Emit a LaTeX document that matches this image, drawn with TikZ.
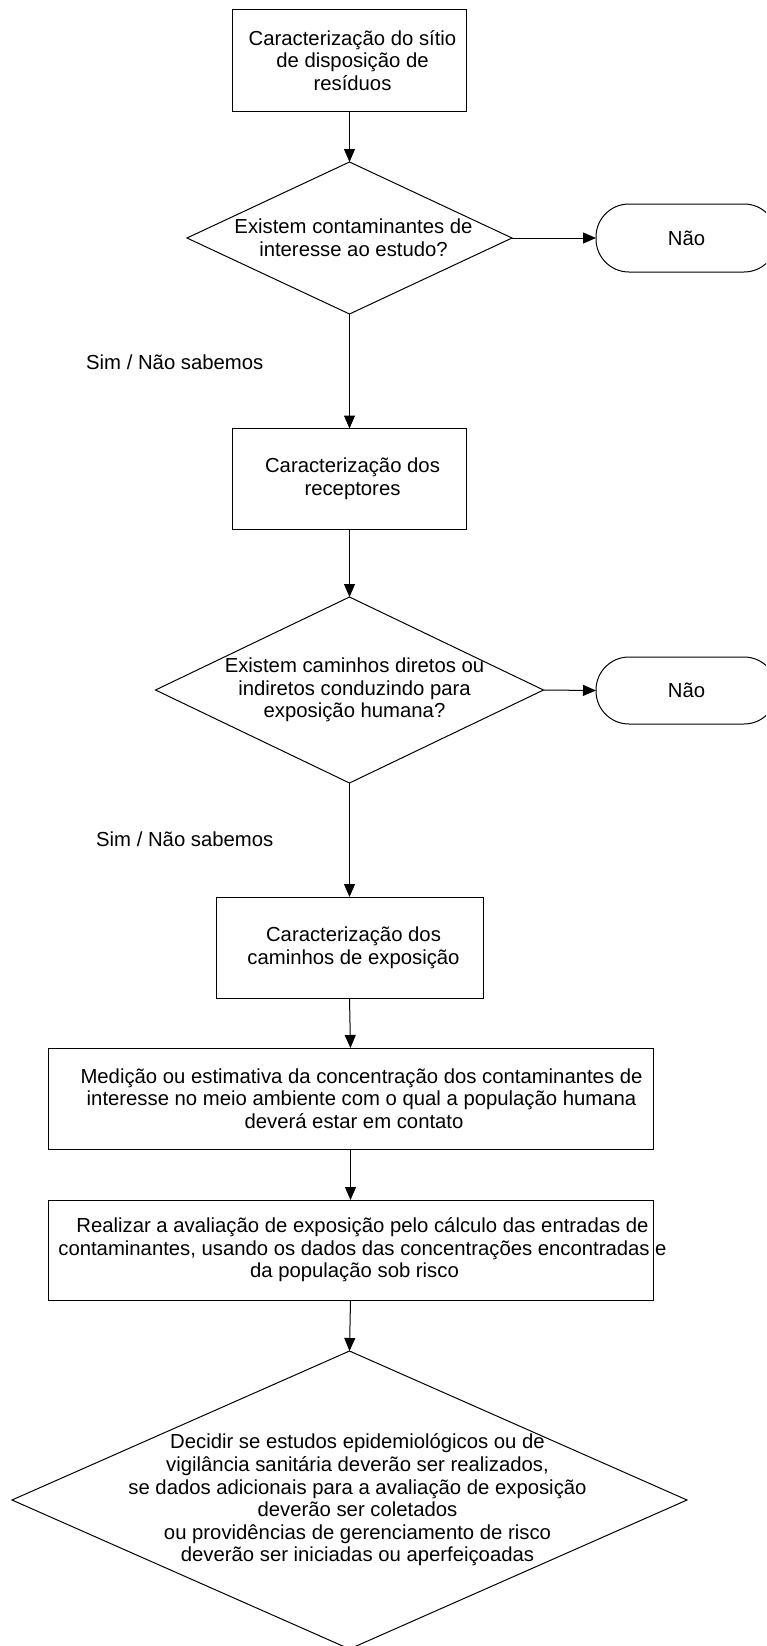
\documentclass[tikz,border=0pt]{standalone}
\usepackage{fontspec}
\setmainfont{Liberation Sans}
\usetikzlibrary{shapes.geometric,arrows.meta}
\newcommand\diagfont{\fontsize{20.3}{22.6}\selectfont}
\tikzset{
  shp/.style={draw, line width=1pt, inner sep=0pt, outer sep=0pt},
  procbox/.style={shp, rectangle},
  decision/.style={shp, diamond},
  term/.style={shp, rectangle, rounded corners=33pt},
  lbl/.style={align=center, font=\diagfont, inner sep=0pt},
  arr/.style={line width=1pt, -{Triangle[length=13pt,width=11pt]}},
  note/.style={font=\diagfont, inner sep=0pt, anchor=west}
}
\begin{document}
\begin{tikzpicture}[x=1pt,y=-1pt]
\path[use as bounding box] (0,0) rectangle (766,1646);
\clip (0,0) rectangle (766,1646);
\fill[white] (0,0) rectangle (766,1646);

\node[procbox, minimum width=234pt, minimum height=101pt,
  label={[lbl,xshift=3pt]center:{Caracterização do sítio\\de disposição de\\resíduos}}]
  (b1) at (349.5,60.5) {};

\node[decision, minimum width=325pt, minimum height=152pt,
  label={[lbl,xshift=4pt]center:{Existem contaminantes de\\interesse ao estudo?}}]
  (d1) at (349.5,238) {};

\node[term, minimum width=181pt, minimum height=68pt, label={[lbl]center:{Não}}]
  (n1) at (686.5,238) {};

\node[note] (s1) at (86,362) {Sim / Não sabemos};

\node[procbox, minimum width=234pt, minimum height=101pt,
  label={[lbl,xshift=3pt]center:{Caracterização dos\\receptores}}]
  (b2) at (349.5,479) {};

\node[decision, minimum width=388pt, minimum height=186pt,
  label={[lbl,xshift=5pt]center:{Existem caminhos diretos ou\\indiretos conduzindo para\\exposição humana?}}]
  (d2) at (349.5,690) {};

\node[term, minimum width=181pt, minimum height=67pt, label={[lbl]center:{Não}}]
  (n2) at (686.5,690.5) {};

\node[note] (s2) at (96,839) {Sim / Não sabemos};

\node[procbox, minimum width=267pt, minimum height=101pt,
  label={[lbl,xshift=4pt]center:{Caracterização dos\\caminhos de exposição}}]
  (b3) at (349.5,947.5) {};

\node[procbox, minimum width=605pt, minimum height=101pt,
  label={[lbl,xshift=11pt]center:{Medição ou estimativa da concentração dos contaminantes de\\interesse no meio ambiente com o qual a população humana\\\hspace*{-15pt}deverá estar em contato}}]
  (b4) at (350.5,1098.5) {};

\node[procbox, minimum width=605pt, minimum height=100pt,
  label={[lbl,xshift=12pt]center:{Realizar a avaliação de exposição pelo cálculo das entradas de\\contaminantes, usando os dados das concentrações encontradas e\\\hspace*{-16pt}da população sob risco}}]
  (b5) at (350.5,1250) {};

\node[decision, minimum width=675pt, minimum height=298pt,
  label={[lbl,xshift=8pt]center:{Decidir se estudos epidemiológicos ou de\\vigilância sanitária deverão ser realizados,\\se dados adicionais para a avaliação de exposição\\deverão ser coletados\\ou providências de gerenciamento de risco\\deverão ser iniciadas ou aperfeiçoadas}}]
  (d3) at (349.5,1500) {};

\draw[arr] (b1.south) -- (d1.north);
\draw[arr] (d1.east) -- (n1.west);
\draw[arr] (d1.south) -- (b2.north);
\draw[arr] (b2.south) -- (d2.north);
\draw[arr] (d2.east) -- (n2.west);
\draw[arr] (d2.south) -- (b3.north);
\draw[arr] (b3.south) -- (b4.north);
\draw[arr] (b4.south) -- (b5.north);
\draw[arr] (b5.south) -- (d3.north);
\end{tikzpicture}
\end{document}
